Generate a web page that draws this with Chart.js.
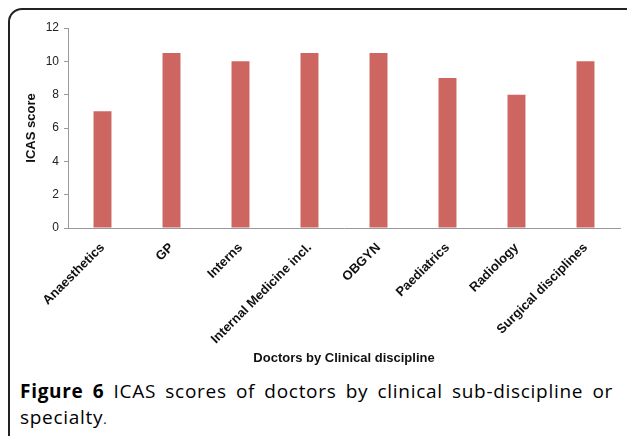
<!DOCTYPE html>
<html>
<head>
<meta charset="utf-8">
<script src="https://cdn.jsdelivr.net/npm/chart.js@4.4.1/dist/chart.umd.min.js"></script>
<style>
  html,body{margin:0;padding:0;background:#fff;width:627px;height:436px;overflow:hidden}
  .frame{position:absolute;left:8px;top:8px;width:640px;height:460px;border:2px solid #222;border-top-left-radius:14px;box-sizing:border-box}
  .plot{position:absolute;left:10px;top:10px;width:616px;height:360px}
  .caption{position:absolute;left:20px;top:378px;width:593px;font:500 19px "Open Sans","Noto Sans",sans-serif;letter-spacing:0.7px;color:#000;line-height:26px;text-align:justify;text-align-last:left}
  .caption b{font-weight:700}
</style>
</head>
<body>
<div class="frame"></div>
<div class="plot"><canvas id="c"></canvas></div>
<div class="caption"><b>Figure 6</b> ICAS scores of doctors by clinical sub-discipline or specialty<span style="font-size:13px">.</span></div>
<script>
// ====== DATA ======
const categories = ['Anaesthetics','GP','Interns','Internal Medicine incl.','OBGYN','Paediatrics','Radiology','Surgical disciplines'];
const scores = [7, 10.5, 10, 10.5, 10.5, 9, 8, 10];
const yTicks = [0, 2, 4, 6, 8, 10, 12];

const FONT = '"Liberation Sans", Arial, sans-serif';
const ctx = document.getElementById('c').getContext('2d');
new Chart(ctx, {
  type: 'bar',
  data: { labels: categories, datasets: [{ data: scores, backgroundColor: '#cd6660', borderWidth: 0, categoryPercentage: 1, barPercentage: 0.26 }] },
  options: {
    responsive: true, maintainAspectRatio: false, animation: false,
    layout: { padding: { top: 18, right: 6, left: 0, bottom: 0 } },
    plugins: { legend: { display: false }, tooltip: { enabled: false } },
    scales: {
      x: {
        grid: { display: false },
        border: { display: true, color: '#9a9a9a', width: 1 },
        ticks: { color: '#111', font: { family: FONT, size: 13, weight: 'bold' }, minRotation: 45, maxRotation: 45, padding: 4 },
        title: { display: true, text: 'Doctors by Clinical discipline', color: '#111', font: { family: FONT, size: 13, weight: 'bold' }, padding: { top: 0, bottom: 4 } },
        afterFit: s => { s.height = 142; }
      },
      y: {
        min: 0, max: 12,
        afterBuildTicks: s => { s.ticks = yTicks.map(v => ({ value: v })); },
        grid: { display: true, drawOnChartArea: false, drawTicks: true, tickLength: 4, color: '#9a9a9a' },
        border: { display: true, color: '#9a9a9a', width: 1 },
        ticks: { color: '#222', font: { family: FONT, size: 12 }, padding: 5 },
        title: { display: true, text: 'ICAS score', color: '#111', font: { family: FONT, size: 13, weight: 'bold' }, padding: { top: 14, bottom: 0 } },
        afterFit: s => { s.width = 58; }
      }
    }
  }
});
</script>
</body>
</html>
